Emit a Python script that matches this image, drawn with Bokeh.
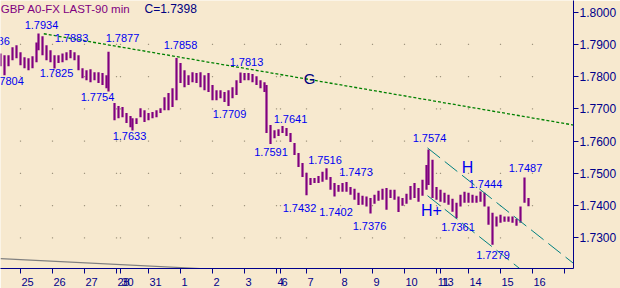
from bokeh.plotting import figure
from bokeh.models import Range1d, LinearAxis, FixedTicker, NumeralTickFormatter, ColumnDataSource
from bokeh.core.properties import value
from bokeh.embed import file_html
from bokeh.resources import INLINE

# ---------------- data ----------------
title = "GBP A0-FX LAST-90 min"
last_close = 1.7398

# bar index (90-minute bars), sampled
bars = [-10, -8, -6, -4, -2, 0, 2, 4, 6, 8,
        9, 11, 13, 15, 17, 19, 21, 23, 25, 27,
        29, 31, 33, 35, 37, 39, 41, 43, 44, 47,
        49, 51, 53, 55, 56, 58, 60, 62, 64, 66,
        68, 70, 72, 74, 76, 78, 80, 82, 84, 86,
        88, 90, 92, 94, 96, 98, 100, 102, 104, 106,
        108, 110, 112, 114, 116, 118, 120, 122, 123, 125,
        127, 129, 131, 133, 135, 137, 139, 141, 143, 145,
        147, 149, 151, 153, 155, 157, 159, 161, 163, 165,
        167, 169, 171, 173, 175, 177, 179, 181, 183, 185,
        187, 189, 191, 193, 195, 197, 199, 201, 203, 204,
        206, 208, 210, 212, 214, 216, 218, 220, 222, 224,
        226, 228, 230, 232, 234, 236, 238, 240, 242, 244,
        246, 248, 250, 252, 254]
highs = [1.7872, 1.7866, 1.7866, 1.7891, 1.7897, 1.7876, 1.7860, 1.7857, 1.7863, 1.7906,
         1.7934, 1.7925, 1.7897, 1.7882, 1.7866, 1.7866, 1.7872, 1.7876, 1.7883, 1.7876,
         1.7866, 1.7826, 1.7820, 1.7823, 1.7814, 1.7814, 1.7811, 1.7804, 1.7877, 1.7718,
         1.7709, 1.7706, 1.7687, 1.7678, 1.7671, 1.7671, 1.7702, 1.7696, 1.7687, 1.7690,
         1.7696, 1.7702, 1.7736, 1.7749, 1.7764, 1.7858, 1.7842, 1.7820, 1.7804, 1.7814,
         1.7811, 1.7814, 1.7804, 1.7811, 1.7774, 1.7758, 1.7758, 1.7752, 1.7758, 1.7767,
         1.7789, 1.7813, 1.7811, 1.7811, 1.7808, 1.7801, 1.7789, 1.7783, 1.7774, 1.7650,
         1.7634, 1.7637, 1.7647, 1.7641, 1.7625, 1.7594, 1.7563, 1.7532, 1.7502, 1.7486,
         1.7486, 1.7492, 1.7505, 1.7516, 1.7489, 1.7470, 1.7464, 1.7470, 1.7473, 1.7458,
         1.7452, 1.7440, 1.7431, 1.7428, 1.7424, 1.7434, 1.7446, 1.7452, 1.7455, 1.7449,
         1.7449, 1.7428, 1.7424, 1.7437, 1.7461, 1.7470, 1.7455, 1.7480, 1.7526, 1.7574,
         1.7542, 1.7458, 1.7449, 1.7440, 1.7434, 1.7421, 1.7409, 1.7434, 1.7443, 1.7440,
         1.7434, 1.7431, 1.7444, 1.7440, 1.7397, 1.7378, 1.7366, 1.7372, 1.7366, 1.7366,
         1.7366, 1.7359, 1.7397, 1.7487, 1.7424]
lows = [1.7832, 1.7804, 1.7832, 1.7851, 1.7857, 1.7835, 1.7826, 1.7820, 1.7826, 1.7845,
        1.7882, 1.7866, 1.7851, 1.7845, 1.7825, 1.7842, 1.7845, 1.7851, 1.7857, 1.7851,
        1.7820, 1.7795, 1.7789, 1.7783, 1.7789, 1.7780, 1.7774, 1.7764, 1.7754, 1.7665,
        1.7671, 1.7674, 1.7656, 1.7643, 1.7633, 1.7653, 1.7674, 1.7659, 1.7665, 1.7671,
        1.7674, 1.7687, 1.7696, 1.7696, 1.7706, 1.7727, 1.7780, 1.7767, 1.7774, 1.7783,
        1.7780, 1.7767, 1.7758, 1.7752, 1.7727, 1.7727, 1.7733, 1.7721, 1.7709, 1.7733,
        1.7743, 1.7780, 1.7789, 1.7789, 1.7783, 1.7774, 1.7764, 1.7752, 1.7625, 1.7591,
        1.7609, 1.7616, 1.7625, 1.7616, 1.7597, 1.7557, 1.7520, 1.7489, 1.7432, 1.7464,
        1.7470, 1.7470, 1.7474, 1.7480, 1.7449, 1.7428, 1.7443, 1.7443, 1.7443, 1.7434,
        1.7418, 1.7402, 1.7403, 1.7397, 1.7376, 1.7406, 1.7415, 1.7418, 1.7387, 1.7424,
        1.7418, 1.7380, 1.7400, 1.7406, 1.7418, 1.7424, 1.7412, 1.7431, 1.7449, 1.7464,
        1.7424, 1.7418, 1.7412, 1.7409, 1.7403, 1.7381, 1.7361, 1.7397, 1.7409, 1.7409,
        1.7409, 1.7409, 1.7412, 1.7397, 1.7341, 1.7279, 1.7335, 1.7347, 1.7350, 1.7350,
        1.7347, 1.7338, 1.7347, 1.7409, 1.7398]

# swing high / low annotations: value, label anchor (bar, price)
swing_values = [1.7886, 1.7934, 1.7883, 1.7877, 1.7858, 1.7813, 1.7804, 1.7825,
                1.7754, 1.7633, 1.7709, 1.7641, 1.7591, 1.7516, 1.7473, 1.7432,
                1.7402, 1.7376, 1.7574, 1.7444, 1.7487, 1.7361, 1.7279]
swing_label_x = [-13.75, 10.5, 25.5, 51, 80, 113, -6.75, 18,
                 38.5, 54.5, 104.5, 135, 125.25, 152.25, 167.75, 139.5,
                 157.75, 174.5, 204.5, 232.5, 252.5, 218.75, 236.25]
swing_label_y = [1.7909, 1.7959, 1.7920, 1.7920, 1.7897, 1.7845, 1.7786, 1.7811,
                 1.7738, 1.7616, 1.7684, 1.7669, 1.7567, 1.7542, 1.7505, 1.7392,
                 1.7380, 1.7336, 1.7611, 1.7466, 1.7517, 1.7333, 1.7248]

# trend lines (bar, price)
g_line_x = [11.65, 276.5]
g_line_y = [1.7933, 1.7650]
h_upper_x = [203.5, 276.5]
h_upper_y = [1.7579, 1.7221]
h_lower_x = [203.5, 276.5]
h_lower_y = [1.7431, 1.7073]
base_line_x = [-10, 90]
base_line_y = [1.7236, 1.7205]

trend_names = ["G", "H", "H+"]
trend_name_x = [144.5, 223.5, 205.5]
trend_name_y = [1.7795, 1.7519, 1.7384]

# axes
day_labels = ["25", "26", "27", "28", "30", "31", "1", "2", "3", "4",
              "6", "7", "8", "9", "10", "11", "13", "14", "15", "16"]
day_ticks = [0, 16, 32, 48, 50, 64, 80, 96, 112, 128,
             130, 143, 160, 176, 192, 208, 210, 224, 240, 256]
next_day_tick = 272
price_ticks = [1.73, 1.74, 1.75, 1.76, 1.77, 1.78, 1.79, 1.80]

# ---------------- style ----------------
BG = "#F7E9CF"
PURPLE = "#800080"
NAVY = "#00008B"
BLUE = "#0000F0"
FONT = value("Liberation Sans")

p = figure(width=620, height=288,
           x_range=Range1d(-10, 276.5), y_range=Range1d(1.72051, 1.80361),
           x_axis_location=None, y_axis_location=None,
           toolbar_location=None, output_backend="svg",
           min_border_left=0, min_border_top=0, min_border_right=47, min_border_bottom=19,
           background_fill_color=BG, border_fill_color=BG, outline_line_color=None)
p.xgrid.visible = False
p.ygrid.visible = False

# right price axis
yax = LinearAxis(ticker=FixedTicker(ticks=price_ticks, minor_ticks=[]),
                 formatter=NumeralTickFormatter(format="0.0000"),
                 axis_line_color=NAVY, axis_line_width=1,
                 major_tick_line_color=NAVY, major_tick_in=0, major_tick_out=5,
                 minor_tick_line_color=None,
                 major_label_standoff=1,
                 major_label_text_font="Liberation Sans",
                 major_label_text_font_size="12px",
                 major_label_text_color=NAVY)
p.add_layout(yax, "right")

# bottom date axis: tick marks at day starts, labels just right of each tick
label_pos = [t + (3.5 if len(s) == 2 else 2) for t, s in zip(day_ticks, day_labels)]
xax = LinearAxis(ticker=FixedTicker(ticks=label_pos, minor_ticks=day_ticks + [next_day_tick]),
                 major_label_overrides={lp: s for lp, s in zip(label_pos, day_labels)},
                 axis_line_color=NAVY, axis_line_width=1,
                 major_tick_line_color=None, major_tick_in=0, major_tick_out=0,
                 minor_tick_line_color=NAVY, minor_tick_in=0, minor_tick_out=5,
                 major_label_standoff=4,
                 major_label_text_font="Liberation Sans",
                 major_label_text_font_size="11px",
                 major_label_text_color=NAVY)
p.add_layout(xax, "below")

# dotted grid points
gx = [t for t in day_ticks for _ in price_ticks[:-1]]
gy = [v for _ in day_ticks for v in price_ticks[:-1]]
p.scatter(gx, gy, marker="square", size=1.2, fill_color="#a0957f", line_color=None)

# base gray line
p.line(base_line_x, base_line_y, line_color="#808080", line_width=1.3)

# price bars
src = ColumnDataSource(dict(x=bars, hi=highs, lo=lows))
p.segment(x0="x", y0="lo", x1="x", y1="hi", source=src, line_color=PURPLE, line_width=2.2)

# trend lines
p.line(g_line_x, g_line_y, line_color="#008000", line_width=1.3, line_dash="3 2")
p.line(h_upper_x, h_upper_y, line_color="#008080", line_width=1, line_dash="16 6")
p.line(h_lower_x, h_lower_y, line_color="#008080", line_width=1, line_dash="16 6")

# swing labels
p.text(x=swing_label_x, y=swing_label_y, text=[f"{v:.4f}" for v in swing_values],
       text_font=FONT, text_font_size="11px", text_color=BLUE,
       text_align="center", text_baseline="middle")

# trend line names
p.text(x=trend_name_x[:1], y=trend_name_y[:1], text=trend_names[:1],
       text_font=FONT, text_font_size="15px", text_color="#000080",
       text_align="center", text_baseline="middle")
p.text(x=trend_name_x[1:], y=trend_name_y[1:], text=trend_names[1:],
       text_font=FONT, text_font_size="16px", text_color=BLUE,
       text_align="center", text_baseline="middle")

# header
p.text(x=[-9.9], y=[1.80083], text=[title], text_font=FONT, text_font_size="11.5px",
       text_color=PURPLE, text_align="left", text_baseline="middle")
p.text(x=[62], y=[1.80083], text=[f"C={last_close:.4f}"], text_font=FONT, text_font_size="12px",
       text_color="#000080", text_align="left", text_baseline="middle")

open("out.html", "w").write(file_html(p, INLINE))
